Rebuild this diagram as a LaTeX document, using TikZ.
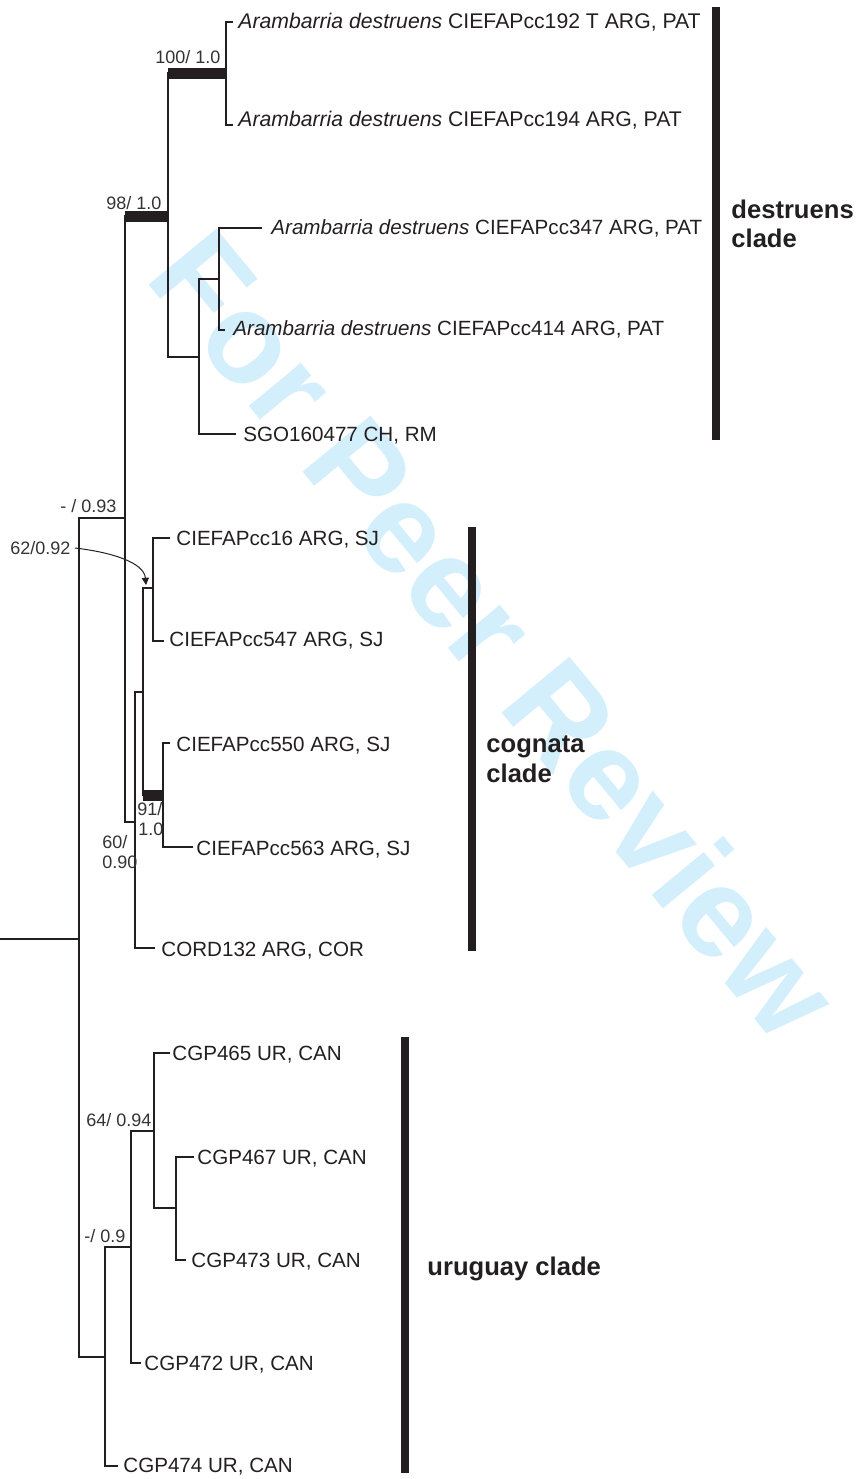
\documentclass[tikz,border=0pt]{standalone}
\usepackage{fontspec}
\setmainfont{Liberation Sans}
\usetikzlibrary{arrows.meta}
\definecolor{ink}{HTML}{231F20}
\definecolor{sup}{HTML}{333333}
\definecolor{wm}{HTML}{D4EFFC}
\begin{document}
\begin{tikzpicture}[x=0.5pt,y=-0.5pt,
  br/.style={draw=ink,line width=1.1pt},
  thickbar/.style={draw=ink,line width=5.5pt},
  cladebar/.style={draw=ink,line width=4pt},
  leaf/.style={anchor=west,inner sep=0pt,text=ink,font=\fontsize{10.3}{12}\selectfont,text height=7.37pt,text depth=0pt},
  bigleaf/.style={leaf,font=\fontsize{10.6}{12}\selectfont,text height=7.59pt},
  suplbl/.style={inner sep=0pt,text=sup,font=\fontsize{9}{10}\selectfont,text height=6.45pt,text depth=0pt},
  cladelbl/.style={anchor=base west,inner sep=0pt,text=ink,font=\bfseries\fontsize{12.8}{14.5}\selectfont,align=left}]
\useasboundingbox (0,0) rectangle (858,1479);
% watermark
\node[rotate=-50.5,text=wm,font=\bfseries\fontsize{64}{64}\selectfont,inner sep=0pt] (wmark) at (496,634) {For Peer Review};
% tree coordinates
\coordinate (root0) at (0,939);
\coordinate (n6) at (79,939);
\coordinate (n5) at (125,518);
\coordinate (n2) at (168,216);
\coordinate (n1) at (226,73);
\coordinate (t1) at (233,22);
\coordinate (t2) at (233,125);
\coordinate (n3) at (199,357);
\coordinate (n4) at (219,279);
\coordinate (t3) at (262,228);
\coordinate (t4) at (225,330);
\coordinate (tS) at (236,434);
\coordinate (n7) at (135,822);
\coordinate (n8) at (143,692);
\coordinate (n9) at (153,588);
\coordinate (t16) at (170,538);
\coordinate (t547) at (164,641);
\coordinate (n10) at (163,795);
\coordinate (t550) at (170,743);
\coordinate (t563) at (193,847);
\coordinate (tC) at (155,948);
\coordinate (n11) at (105,1357);
\coordinate (n12) at (131,1247);
\coordinate (t474) at (118,1466);
\coordinate (n13) at (154,1131);
\coordinate (t472) at (141,1363);
\coordinate (t465) at (170,1053);
\coordinate (n14) at (176,1208);
\coordinate (t467) at (194,1157);
\coordinate (t473) at (186,1260);
% branches
\draw[br] (root0) -- (n6);
\draw[br] (n6) |- (n5);
\draw[br] (n6) |- (n11);
\draw[br] (n5) |- (n2);
\draw[br] (n5) |- (n7);
\draw[br] (n2) |- (n1);
\draw[br] (n2) |- (n3);
\draw[br] (n1) |- (t1);
\draw[br] (n1) |- (t2);
\draw[br] (n3) |- (n4);
\draw[br] (n3) |- (tS);
\draw[br] (n4) |- (t3);
\draw[br] (n4) |- (t4);
\draw[br] (n7) |- (n8);
\draw[br] (n7) |- (tC);
\draw[br] (n8) |- (n9);
\draw[br] (n8) |- (n10);
\draw[br] (n9) |- (t16);
\draw[br] (n9) |- (t547);
\draw[br] (n10) |- (t550);
\draw[br] (n10) |- (t563);
\draw[br] (n11) |- (n12);
\draw[br] (n11) |- (t474);
\draw[br] (n12) |- (n13);
\draw[br] (n12) |- (t472);
\draw[br] (n13) |- (t465);
\draw[br] (n13) |- (n14);
\draw[br] (n14) |- (t467);
\draw[br] (n14) |- (t473);
% thick supported branches
\draw[thickbar] (n5 |- n2) -- (n2);
\draw[thickbar] (n2 |- n1) -- (n1);
\draw[thickbar] (n8 |- n10) -- (n10);
% leaf labels
\node[bigleaf] (l1) at (238,21) {\itshape Arambarria destruens\upshape{} CIEFAPcc192 T ARG, PAT};
\node[bigleaf] (l2) at (238,119) {\itshape Arambarria destruens\upshape{} CIEFAPcc194 ARG, PAT};
\node[leaf] (l3) at (271,227) {\itshape Arambarria destruens\upshape{} CIEFAPcc347 ARG, PAT};
\node[leaf] (l4) at (233,328) {\itshape Arambarria destruens\upshape{} CIEFAPcc414 ARG, PAT};
\node[leaf] (lS) at (243,434) {SGO160477 CH, RM};
\node[leaf] (l16) at (176,538) {CIEFAPcc16 ARG, SJ};
\node[leaf] (l547) at (169,639) {CIEFAPcc547 ARG, SJ};
\node[leaf] (l550) at (176,744) {CIEFAPcc550 ARG, SJ};
\node[leaf] (l563) at (196,848) {CIEFAPcc563 ARG, SJ};
\node[leaf] (lC) at (161,949) {CORD132 ARG, COR};
\node[leaf] (l465) at (172,1053) {CGP465 UR, CAN};
\node[leaf] (l467) at (197,1157) {CGP467 UR, CAN};
\node[leaf] (l473) at (191,1260) {CGP473 UR, CAN};
\node[leaf] (l472) at (144,1363) {CGP472 UR, CAN};
\node[leaf] (l474) at (123,1465) {CGP474 UR, CAN};
% support labels
\node[suplbl,anchor=west] (s100) at (155,57) {100/ 1.0};
\node[suplbl,anchor=west] (s98) at (106,203) {98/ 1.0};
\node[suplbl,anchor=west] (s93) at (60,506) {- / 0.93};
\node[suplbl,anchor=west] (s62) at (10,548) {62/0.92};
\node[suplbl,anchor=west] (s60a) at (102,842) {60/};
\node[suplbl,anchor=west] (s60b) at (102,862) {0.90};
\node[suplbl,anchor=west] (s91a) at (137,809) {91/};
\node[suplbl,anchor=west] (s91b) at (138,829) {1.0};
\node[suplbl,anchor=west] (s64) at (86,1120) {64/ 0.94};
\node[suplbl,anchor=west] (s9) at (84,1236) {-/ 0.9};
% arrow to node
\coordinate (arrtip) at (146,585);
\draw[draw=ink,line width=0.5pt,-{Triangle[width=3.6pt,length=3.6pt]}] ([xshift=2pt]s62.east) .. controls (110,552) and (144,562) .. (arrtip);
% clade bars
\coordinate (cb1a) at (715.5,7);
\coordinate (cb1b) at (715.5,440);
\coordinate (cb2a) at (471.5,527);
\coordinate (cb2b) at (471.5,951);
\coordinate (cb3a) at (404.5,1037);
\coordinate (cb3b) at (404.5,1473);
\draw[cladebar] (cb1a) -- (cb1b);
\draw[cladebar] (cb2a) -- (cb2b);
\draw[cladebar] (cb3a) -- (cb3b);
% clade labels
\node[cladelbl] (c1a) at (731,218) {destruens};
\node[cladelbl] (c1b) at (731,247) {clade};
\node[cladelbl] (c2a) at (486,752) {cognata};
\node[cladelbl] (c2b) at (486,782) {clade};
\node[cladelbl] (c3) at (427,1275) {uruguay clade};
\end{tikzpicture}
\end{document}
